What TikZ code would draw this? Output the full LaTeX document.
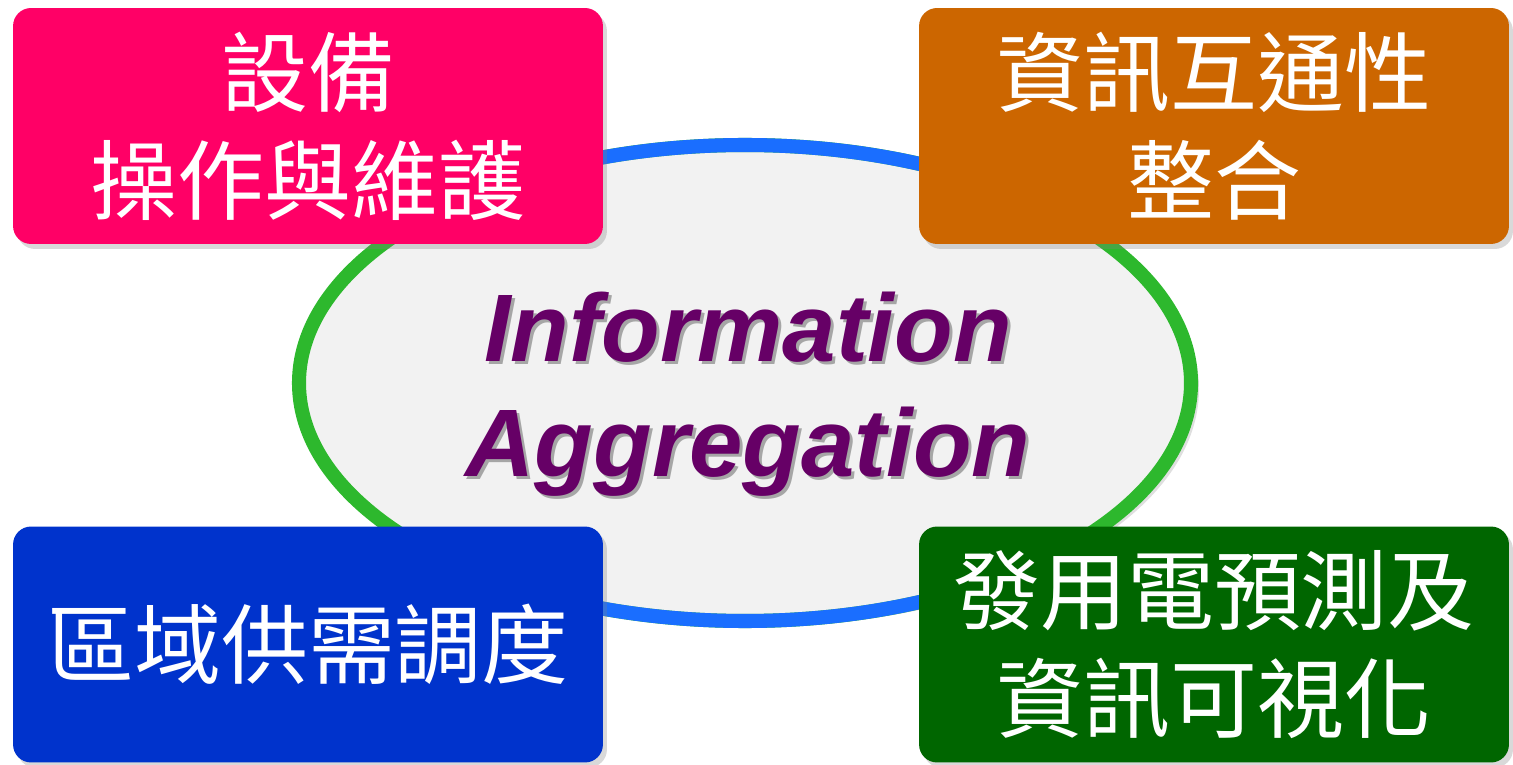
\documentclass[tikz,border=0pt]{standalone}
\usepackage{fontspec}
\setmainfont{Liberation Sans}
\newfontfamily\cjkfont{Noto Sans CJK TC}
\usetikzlibrary{shadows}
\definecolor{pinkbox}{HTML}{FF0066}
\definecolor{orangebox}{HTML}{CC6600}
\definecolor{bluebox}{HTML}{0033CC}
\definecolor{greenbox}{HTML}{006600}
\definecolor{ringgreen}{HTML}{2DB82D}
\definecolor{ringblue}{HTML}{1A6EFF}
\definecolor{hubfill}{HTML}{F2F2F2}
\definecolor{hubtext}{HTML}{660066}
% grey copy of the text, a little down and right
\newcommand\shadedword[1]{\makebox[0pt][l]{\kern0.06cm\raisebox{-0.06cm}{\textcolor{black!35}{#1}}}#1}
\tikzset{
  task/.style={rectangle,rounded corners=0.36cm,minimum width=11.8cm,minimum height=4.72cm,
    inner sep=0pt,align=center,text=white,font=\cjkfont\fontsize{49.5}{61.5}\selectfont,
    drop shadow={shadow xshift=0.08cm,shadow yshift=-0.1cm,opacity=0.3}},
  hub/.style={anchor=base,inner sep=0pt,text=hubtext,font=\bfseries\itshape\fontsize{54.6}{65}\selectfont}
}
\begin{document}
\begin{tikzpicture}[x=0.02cm,y=0.02cm]
  \useasboundingbox (0,0) rectangle (1513,764);
  % draw ring in the middle
  \path[fill=hubfill,drop shadow={shadow xshift=0.16cm,shadow yshift=-0.12cm,opacity=0.25}]
    (745,381) ellipse [x radius=446,y radius=238];
  \draw[ringgreen,line width=8pt] (745,381) ellipse [x radius=446,y radius=238];
  % blue parts of the ring, top and bottom
  \draw[ringblue,line width=8pt] (745,381) ++(50:446 and 238) arc[start angle=50,end angle=130,x radius=446,y radius=238];
  \draw[ringblue,line width=8pt] (745,381) ++(230:446 and 238) arc[start angle=230,end angle=310,x radius=446,y radius=238];
  % draw title
  \node at(748,402)[hub](info){\shadedword{Information}};
  \node at(748,287)[hub](aggr){\shadedword{Aggregation}};
  % draw the four boxes
  \node at(308,638)[task,fill=pinkbox](upkeep){設備\\操作與維護};
  \node at(1214,638)[task,fill=orangebox](interop){資訊互通性\\整合};
  \node at(308,119.5)[task,fill=bluebox](dispatch){區域供需調度};
  \node at(1214,119.5)[task,fill=greenbox](forecast){發用電預測及\\資訊可視化};
\end{tikzpicture}
\end{document}
